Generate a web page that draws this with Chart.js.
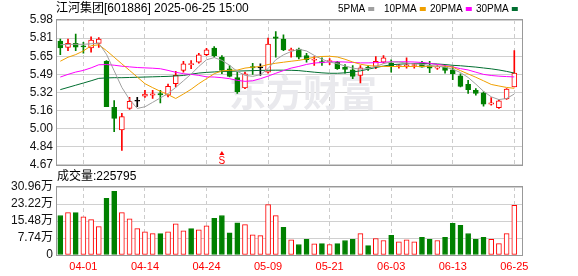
<!DOCTYPE html>
<html>
<head>
<meta charset="utf-8">
<script src="https://cdn.jsdelivr.net/npm/chart.js@4.4.1/dist/chart.umd.min.js"></script>
<style>
  body { margin: 0; background: #fff; }
  #wrap { position: relative; width: 578px; height: 276px; }
  canvas { position: absolute; left: 0; }
</style>
</head>
<body>
<div id="wrap">
  <canvas id="kline" width="578" height="176" style="top:0"></canvas>
  <canvas id="vol" width="578" height="108" style="top:168px"></canvas>
</div>
<script>
const title = '江河集团[601886] 2025-06-25 15:00'
const volLabel = '成交量:225795'

const dates = ['03-27', '03-28', '03-31', '04-01', '04-02', '04-03', '04-07', '04-08', '04-09', '04-10',
  '04-11', '04-14', '04-15', '04-16', '04-17', '04-18', '04-21', '04-22', '04-23', '04-24',
  '04-25', '04-28', '04-29', '04-30', '05-06', '05-07', '05-08', '05-09', '05-12', '05-13',
  '05-14', '05-15', '05-16', '05-19', '05-20', '05-21', '05-22', '05-23', '05-26', '05-27',
  '05-28', '05-29', '05-30', '06-03', '06-04', '06-05', '06-06', '06-09', '06-10', '06-11',
  '06-12', '06-13', '06-16', '06-17', '06-18', '06-19', '06-20', '06-23', '06-24', '06-25']
const labelDates = ['04-01', '04-14', '04-24', '05-09', '05-21', '06-03', '06-13', '06-25']

const openP = [5.79, 5.733, 5.768, 5.745, 5.727, 5.768, 5.607, 5.19, 4.986, 5.18,
  5.245, 5.29, 5.30, 5.315, 5.30, 5.404, 5.524, 5.577, 5.598, 5.667,
  5.727, 5.643, 5.539, 5.458, 5.365, 5.559, 5.547, 5.509, 5.828, 5.807,
  5.703, 5.718, 5.658, 5.616, 5.604, 5.604, 5.598, 5.553, 5.53, 5.479,
  5.553, 5.559, 5.598, 5.589, 5.559, 5.562, 5.568, 5.592, 5.568, 5.545,
  5.553, 5.53, 5.476, 5.398, 5.344, 5.32, 5.219, 5.186, 5.267, 5.374]
const highP = [5.807, 5.807, 5.852, 5.777, 5.828, 5.822, 5.613, 5.25, 5.136, 5.28,
  5.28, 5.344, 5.344, 5.344, 5.40, 5.515, 5.607, 5.613, 5.679, 5.724,
  5.739, 5.658, 5.568, 5.509, 5.509, 5.589, 5.583, 5.816, 5.876, 5.846,
  5.727, 5.727, 5.679, 5.649, 5.637, 5.631, 5.607, 5.577, 5.568, 5.568,
  5.568, 5.649, 5.658, 5.619, 5.577, 5.637, 5.589, 5.607, 5.607, 5.568,
  5.568, 5.559, 5.494, 5.434, 5.359, 5.33, 5.279, 5.261, 5.359, 5.703]
const lowP = [5.667, 5.703, 5.703, 5.679, 5.688, 5.733, 5.195, 4.97, 4.801, 5.17,
  5.195, 5.279, 5.27, 5.23, 5.285, 5.374, 5.509, 5.539, 5.589, 5.658,
  5.643, 5.494, 5.464, 5.315, 5.359, 5.488, 5.479, 5.50, 5.643, 5.703,
  5.643, 5.628, 5.598, 5.568, 5.568, 5.577, 5.533, 5.50, 5.449, 5.41,
  5.524, 5.539, 5.589, 5.509, 5.544, 5.544, 5.544, 5.553, 5.503, 5.533,
  5.50, 5.44, 5.374, 5.315, 5.30, 5.201, 5.21, 5.18, 5.261, 5.374]
const closeP = [5.727, 5.768, 5.735, 5.737, 5.798, 5.807, 5.195, 5.09, 5.106, 5.245,
  5.245, 5.309, 5.312, 5.303, 5.38, 5.479, 5.584, 5.583, 5.664, 5.709,
  5.658, 5.524, 5.47, 5.33, 5.494, 5.547, 5.547, 5.762, 5.813, 5.709,
  5.712, 5.643, 5.622, 5.625, 5.592, 5.613, 5.539, 5.533, 5.47, 5.547,
  5.545, 5.607, 5.637, 5.559, 5.565, 5.574, 5.577, 5.553, 5.545, 5.553,
  5.524, 5.494, 5.38, 5.35, 5.315, 5.219, 5.231, 5.249, 5.356, 5.50]

const volume = [180000, 193000, 193000, 174000, 161000, 129000, 258000, 290000, 193000, 165000,
  120000, 106000, 97000, 97000, 106000, 142000, 110000, 120000, 115000, 133000,
  167000, 180000, 101000, 147000, 138000, 92000, 88000, 229000, 179000, 126000,
  69000, 48000, 71000, 51000, 52000, 48000, 52000, 66000, 71000, 97000,
  43000, 75000, 66000, 89000, 60000, 69000, 60000, 80000, 71000, 66000,
  80000, 144000, 135000, 98000, 71000, 80000, 71000, 52000, 97000, 225795]

const ma5 = [5.756, 5.76, 5.76, 5.76, 5.765, 5.77, 5.67, 5.52, 5.37, 5.26,
  5.18, 5.195, 5.235, 5.275, 5.315, 5.37, 5.43, 5.49, 5.56, 5.62,
  5.64, 5.615, 5.57, 5.515, 5.48, 5.47, 5.485, 5.54, 5.62, 5.665,
  5.695, 5.715, 5.70, 5.66, 5.625, 5.60, 5.585, 5.565, 5.545, 5.535,
  5.54, 5.56, 5.585, 5.60, 5.60, 5.59, 5.583, 5.58, 5.568, 5.562,
  5.553, 5.535, 5.505, 5.46, 5.40, 5.335, 5.285, 5.26, 5.27, 5.31]
const ma10 = [5.607, 5.643, 5.667, 5.70, 5.747, 5.756, 5.703, 5.643, 5.583, 5.524,
  5.464, 5.404, 5.368, 5.335, 5.305, 5.27, 5.31, 5.353, 5.404, 5.449,
  5.494, 5.52, 5.525, 5.527, 5.545, 5.553, 5.559, 5.577, 5.589, 5.598,
  5.607, 5.615, 5.628, 5.643, 5.65, 5.652, 5.645, 5.625, 5.60, 5.58,
  5.568, 5.562, 5.56, 5.559, 5.559, 5.559, 5.56, 5.56, 5.561, 5.562,
  5.562, 5.553, 5.522, 5.492, 5.462, 5.43, 5.397, 5.383, 5.37, 5.362]
const ma20 = [5.464, 5.488, 5.509, 5.524, 5.547, 5.575, 5.577, 5.571, 5.562, 5.556,
  5.55, 5.547, 5.544, 5.539, 5.524, 5.507, 5.494, 5.488, 5.479, 5.466,
  5.464, 5.458, 5.449, 5.434, 5.425, 5.43, 5.449, 5.472, 5.498, 5.522,
  5.545, 5.56, 5.578, 5.59, 5.596, 5.6, 5.602, 5.6, 5.596, 5.592,
  5.592, 5.594, 5.598, 5.602, 5.602, 5.602, 5.6, 5.596, 5.588, 5.578,
  5.568, 5.555, 5.54, 5.528, 5.508, 5.488, 5.478, 5.472, 5.468, 5.465]
const ma30 = [5.35, 5.37, 5.39, 5.41, 5.43, 5.452, 5.456, 5.458, 5.458, 5.46,
  5.462, 5.464, 5.466, 5.468, 5.47, 5.474, 5.478, 5.49, 5.5, 5.506,
  5.51, 5.514, 5.516, 5.518, 5.52, 5.522, 5.524, 5.525, 5.526, 5.526,
  5.525, 5.522, 5.515, 5.508, 5.502, 5.498, 5.498, 5.502, 5.51, 5.52,
  5.535, 5.55, 5.563, 5.575, 5.58, 5.584, 5.587, 5.588, 5.585, 5.582,
  5.577, 5.57, 5.566, 5.56, 5.554, 5.546, 5.538, 5.528, 5.515, 5.50]

const priceTicks = ['4.67', '4.84', '5.00', '5.16', '5.32', '5.49', '5.65', '5.81', '5.98']
const volTicks = ['0', '7.74万', '15.48万', '23.22万', '30.96万']
const priceMin = 4.67
const priceMax = 5.98
const volMax = 309600
const signalIndex = 21 // red "S" mark under 04-28

const RED = '#ff0000'
const GREEN = '#008000'
const maNames = ['5PMA', '10PMA', '20PMA', '30PMA']
const maColors = ['#a0a0a0', '#f0a000', '#ff00ff', '#006e30']

const candleColor = closeP.map((c, i) => c > openP[i] ? RED : (c < openP[i] ? GREEN : '#000'))
const volColor = closeP.map((c, i) => {
  if (i === 0) return c >= openP[0] ? RED : GREEN
  return c >= closeP[i - 1] ? RED : GREEN
})

const axisFont = { family: "'Liberation Sans', 'Noto Sans CJK SC'", size: 12 }

function xScale (showLabels) {
  return {
    type: 'linear',
    min: -0.43,
    max: 60,
    offset: false,
    afterBuildTicks: (s) => { s.ticks = labelDates.map(d => ({ value: dates.indexOf(d) })) },
    afterFit: (s) => { s.height = showLabels ? 21 : 0 },
    grid: { color: '#cccccc', drawTicks: false, offset: false },
    border: { display: false, dash: [4, 3] },
    ticks: {
      display: showLabels,
      autoSkip: false,
      maxRotation: 0,
      padding: 5,
      color: RED,
      font: { family: "'Liberation Sans'", size: 11 },
      callback: (v) => dates[v]
    }
  }
}

const framePlugin = {
  id: 'frame',
  afterDraw (chart) {
    const { ctx, chartArea: a } = chart
    ctx.save()
    ctx.strokeStyle = '#999'
    ctx.lineWidth = 1
    ctx.strokeRect(Math.round(a.left) - 0.5, Math.round(a.top) - 0.5, Math.round(a.right - a.left) + 1, Math.round(a.bottom - a.top) + 1)
    ctx.restore()
  }
}

const headerPlugin = {
  id: 'header',
  beforeDatasetsDraw (chart) {
    const { ctx } = chart
    ctx.save()
    // watermark
    ctx.fillStyle = '#e9e9ed'
    ctx.font = "bold 37px 'Noto Sans CJK SC'"
    ctx.textBaseline = 'middle'
    ctx.fillText('东方财富', 229, 93)
    ctx.restore()
  },
  afterDraw (chart) {
    const { ctx, scales } = chart
    ctx.save()
    ctx.textBaseline = 'middle'
    ctx.fillStyle = '#000'
    ctx.font = "12px 'Liberation Sans', 'Noto Sans CJK SC'"
    ctx.fillText(title, 56, 9)

    ctx.font = "10px 'Liberation Sans'"
    const legendX = [338, 384, 430, 476]
    maNames.forEach((name, k) => {
      ctx.fillStyle = '#000'
      ctx.fillText(name, legendX[k], 9)
      const w = ctx.measureText(name).width
      ctx.fillStyle = maColors[k]
      ctx.fillRect(legendX[k] + w + 3, 7, 6, 4)
    })

    // S mark
    const sx = scales.x.getPixelForValue(signalIndex)
    ctx.fillStyle = RED
    ctx.beginPath()
    ctx.moveTo(sx, 151)
    ctx.lineTo(sx - 2.5, 155)
    ctx.lineTo(sx + 2.5, 155)
    ctx.closePath()
    ctx.fill()
    ctx.font = "10px 'Liberation Sans'"
    ctx.textAlign = 'center'
    ctx.fillText('S', sx, 161)
    ctx.restore()
  }
}

new Chart(document.getElementById('kline'), {
  type: 'bar',
  data: {
    datasets: [
      ...[ma5, ma10, ma20, ma30].map((arr, k) => ({
        type: 'line',
        label: maNames[k],
        data: arr.map((v, i) => ({ x: i, y: v })),
        borderColor: maColors[k],
        borderWidth: 1,
        pointRadius: 0,
        tension: 0,
        order: 0
      })),
      {
        label: 'body',
        data: closeP.map((c, i) => ({ x: i, y: [Math.min(openP[i], c), Math.max(openP[i], c)] })),
        backgroundColor: candleColor.map(c => c === RED ? '#fff' : c),
        borderColor: candleColor,
        borderWidth: 1,
        borderSkipped: false,
        barThickness: 5,
        minBarLength: 1,
        grouped: false,
        order: 1
      },
      {
        label: 'wick',
        data: highP.map((h, i) => ({ x: i, y: [lowP[i], h] })),
        backgroundColor: candleColor,
        borderWidth: 0,
        barThickness: 1,
        grouped: false,
        order: 2
      }
    ]
  },
  options: {
    responsive: false,
    animation: false,
    layout: { padding: { left: 0, right: 56, top: 20, bottom: 10 } },
    plugins: { legend: { display: false }, tooltip: { enabled: false } },
    scales: {
      x: xScale(false),
      y: {
        min: priceMin,
        max: priceMax,
        afterBuildTicks: (s) => { s.ticks = priceTicks.map((t, k) => ({ value: priceMin + k * (priceMax - priceMin) / 8 })) },
        afterFit: (s) => { s.width = 57 },
        grid: { color: '#d0d0d0', drawTicks: false },
        border: { display: false },
        ticks: { autoSkip: false, padding: 4, color: '#111', font: axisFont, callback: (v, i) => priceTicks[i] }
      }
    }
  },
  plugins: [framePlugin, headerPlugin]
})

new Chart(document.getElementById('vol'), {
  type: 'bar',
  data: {
    datasets: [{
      label: 'volume',
      data: volume.map((v, i) => ({ x: i, y: v })),
      backgroundColor: volColor.map(c => c === RED ? '#fff' : c),
      borderColor: volColor,
      borderWidth: 1,
      borderSkipped: false,
      barThickness: 5,
      grouped: false
    }]
  },
  options: {
    responsive: false,
    animation: false,
    layout: { padding: { left: 0, right: 56, top: 19, bottom: 0 } },
    plugins: { legend: { display: false }, tooltip: { enabled: false } },
    scales: {
      x: xScale(true),
      y: {
        min: 0,
        max: volMax,
        afterBuildTicks: (s) => { s.ticks = volTicks.map((t, k) => ({ value: k * volMax / 4 })) },
        afterFit: (s) => { s.width = 57 },
        grid: { color: '#d0d0d0', drawTicks: false },
        border: { display: false },
        ticks: { autoSkip: false, padding: 4, color: '#111', font: axisFont, callback: (v, i) => volTicks[i] }
      }
    }
  },
  plugins: [framePlugin, {
    id: 'volLabel',
    afterDraw (chart) {
      const { ctx } = chart
      ctx.save()
      ctx.fillStyle = '#000'
      ctx.textBaseline = 'middle'
      ctx.font = "12px 'Liberation Sans', 'Noto Sans CJK SC'"
      ctx.fillText(volLabel, 57, 9)
      ctx.restore()
    }
  }]
})
</script>
</body>
</html>
